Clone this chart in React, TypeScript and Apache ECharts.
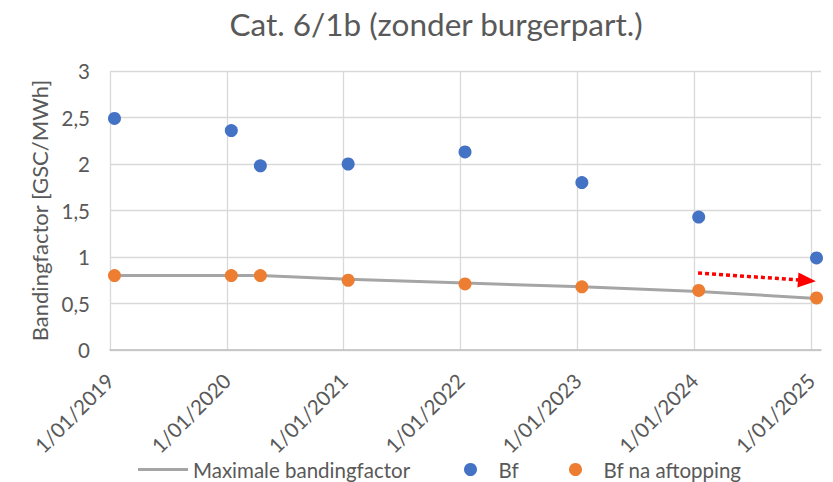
import React, { useEffect, useRef } from "react";
import * as echarts from "echarts";

const dates = ["2019-01-15", "2020-01-15", "2020-04-15", "2021-01-15", "2022-01-15", "2023-01-15", "2024-01-15", "2025-01-18"];
const bfValues = [2.49, 2.36, 1.98, 2.0, 2.13, 1.8, 1.43, 0.99];
const bfCappedValues = [0.8, 0.8, 0.8, 0.75, 0.71, 0.68, 0.64, 0.56];
const maxBandingValues = [0.8, 0.8, 0.8, 0.76, 0.72, 0.68, 0.63, 0.555];
const arrowStart = { date: "2024-01-13", value: 0.828 };
const arrowEnd = { date: "2024-12-19", value: 0.747 };
const yTicks = [0, 0.5, 1, 1.5, 2, 2.5, 3];
const xStartYear = 2019;
const xEndDate = "2025-02-01";

function toYear(s: string): number {
  const [y, m, d] = s.split("-").map(Number);
  const start = Date.UTC(y, 0, 1);
  const end = Date.UTC(y + 1, 0, 1);
  return y + (Date.UTC(y, m - 1, d) - start) / (end - start);
}

const TXT = "#595959";
const FONT = "Lato";
const FS = 20.5;

export default function App() {
  const ref = useRef<HTMLDivElement>(null);
  useEffect(() => {
    document.body.style.margin = "0";
    const chart = echarts.init(ref.current!, null, { renderer: "svg" });
    const xs = dates.map(toYear);
    const legendText = { fontFamily: FONT, fontSize: FS, color: TXT };
    chart.setOption({
      animation: false,
      textStyle: { fontFamily: FONT, color: TXT },
      graphic: [
        {
          type: "text",
          x: 436,
          y: 8,
          style: {
            text: "Cat. 6/1b (zonder burgerpart.)",
            fontFamily: FONT,
            fontSize: 31.5,
            fill: TXT,
            textAlign: "center",
            textVerticalAlign: "top",
          },
        },
      ],
      grid: { left: 110, right: 12, top: 71, bottom: 132, containLabel: false },
      legend: [
        {
          data: [{ name: "Maximale bandingfactor", icon: "rect" }],
          left: 138,
          top: 459,
          padding: 0,
          itemWidth: 50,
          itemHeight: 3,
          textStyle: legendText,
        },
        {
          data: [{ name: "Bf", icon: "circle" }],
          left: 464,
          top: 459,
          padding: 0,
          itemWidth: 46,
          itemHeight: 13,
          textStyle: legendText,
        },
        {
          data: [{ name: "Bf na aftopping", icon: "circle" }],
          left: 569,
          top: 459,
          padding: 0,
          itemWidth: 46,
          itemHeight: 13,
          textStyle: legendText,
        },
      ],
      xAxis: {
        type: "value",
        min: xStartYear,
        max: toYear(xEndDate),
        interval: 1,
        axisLine: { show: true, lineStyle: { color: "#BFBFBF", width: 1.5 } },
        axisTick: { show: false },
        splitLine: { show: true, showMaxLine: false, lineStyle: { color: "#D9D9D9", width: 1.3 } },
        axisLabel: {
          rotate: 45,
          margin: 27,
          showMaxLabel: false,
          fontFamily: FONT,
          fontSize: FS,
          color: TXT,
          formatter: (v: number) => (Number.isInteger(v) ? "1/01/" + v : ""),
        },
      },
      yAxis: {
        type: "value",
        min: yTicks[0],
        max: yTicks[yTicks.length - 1],
        interval: 0.5,
        name: "Bandingfactor [GSC/MWh]",
        nameLocation: "middle",
        nameGap: 57,
        nameTextStyle: { fontFamily: FONT, fontSize: 22, color: TXT },
        axisLine: { show: false },
        axisTick: { show: false },
        splitLine: { lineStyle: { color: "#D9D9D9", width: 1.3 } },
        axisLabel: {
          margin: 20,
          fontFamily: FONT,
          fontSize: FS,
          color: TXT,
          formatter: (v: number) => String(v).replace(".", ","),
        },
      },
      series: [
        {
          name: "Maximale bandingfactor",
          type: "line",
          symbol: "none",
          data: xs.map((x, i) => [x, maxBandingValues[i]]),
          lineStyle: { color: "#A5A5A5", width: 3 },
          itemStyle: { color: "#A5A5A5" },
          z: 2,
          markLine: {
            silent: true,
            symbol: ["none", "triangle"],
            symbolSize: [15, 18],
            label: { show: false },
            lineStyle: { color: "#FF0000", width: 3.5, type: [4, 3] },
            itemStyle: { color: "#FF0000" },
            data: [
              [
                { coord: [toYear(arrowStart.date), arrowStart.value] },
                { coord: [toYear(arrowEnd.date), arrowEnd.value] },
              ],
            ],
          },
        },
        {
          name: "Bf",
          type: "scatter",
          symbolSize: 13,
          data: xs.map((x, i) => [x, bfValues[i]]),
          itemStyle: { color: "#4472C4", opacity: 1 },
          z: 3,
        },
        {
          name: "Bf na aftopping",
          type: "scatter",
          symbolSize: 13,
          data: xs.map((x, i) => [x, bfCappedValues[i]]),
          itemStyle: { color: "#ED7D31", opacity: 1 },
          z: 4,
        },
      ],
    });
    return () => chart.dispose();
  }, []);
  return <div ref={ref} style={{ width: 833, height: 482 }} />;
}
